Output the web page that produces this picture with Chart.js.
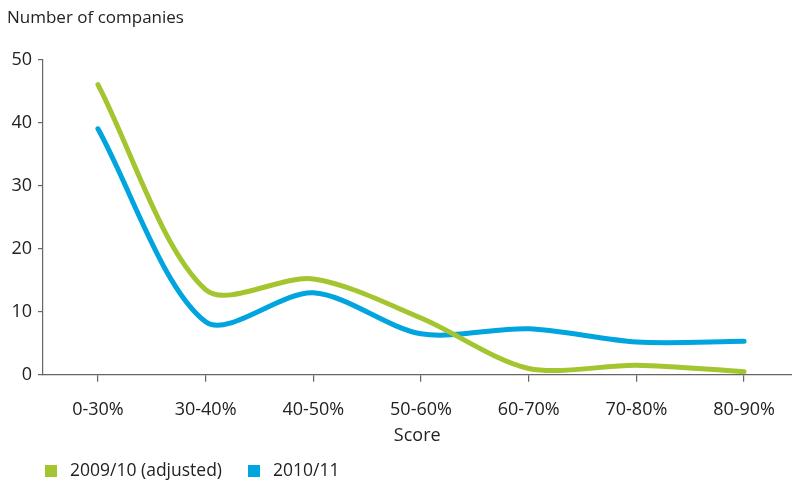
<!DOCTYPE html>
<html>

<head>
    <script src="https://cdn.jsdelivr.net/npm/chart.js@4.4.1/dist/chart.umd.min.js"></script>
    <style>
        html, body { margin: 0; padding: 0; background: #fff; }
        #wrap { width: 792px; height: 484px; }
    </style>
</head>

<body>
    <div id="wrap">
        <canvas id="scores"></canvas>
    </div>

    <script>
        const categories = ["0-30%", "30-40%", "40-50%", "50-60%", "60-70%", "70-80%", "80-90%"]
        const seriesNames = ["2009/10 (adjusted)", "2010/11"]
        const values2009 = [46, 13.5, 15.2, 9.0, 1.0, 1.5, 0.5]
        const values2010 = [39, 8.4, 13.0, 6.5, 7.3, 5.2, 5.3]
        const yTicks = [0, 10, 20, 30, 40, 50]

        const green = "#a3c52f"
        const blue = "#00a4df"
        const family = "'Open Sans', 'Noto Sans', sans-serif"
        const font = { family: family, size: 18 }

        // points use category index as x so the axis can run past the last label like the original
        function toPoints(vals) {
            return vals.map((v, i) => ({ x: i, y: v }))
        }

        // simple legend drawn under the axis title, square swatches
        const bottomLegend = {
            id: 'bottomLegend',
            afterDraw(chart) {
                const ctx = chart.ctx
                ctx.save()
                ctx.font = '17.5px ' + family
                ctx.textBaseline = 'middle'
                let x = 45
                const y = 471
                chart.data.datasets.forEach(ds => {
                    ctx.fillStyle = ds.borderColor
                    ctx.fillRect(x, y - 6, 12, 12)
                    ctx.fillStyle = '#222'
                    ctx.fillText(ds.label, x + 25, y)
                    x += 25 + ctx.measureText(ds.label).width + 26
                })
                ctx.restore()
            }
        }

        new Chart(document.getElementById('scores'), {
            type: 'line',
            data: {
                datasets: [
                    {
                        label: seriesNames[0],
                        data: toPoints(values2009),
                        borderColor: green,
                        backgroundColor: green,
                        borderWidth: 5,
                        borderCapStyle: 'round',
                        tension: 0.3,
                        pointRadius: 0
                    },
                    {
                        label: seriesNames[1],
                        data: toPoints(values2010),
                        borderColor: blue,
                        backgroundColor: blue,
                        borderWidth: 5,
                        borderCapStyle: 'round',
                        tension: 0.3,
                        pointRadius: 0
                    }
                ]
            },
            plugins: [bottomLegend],
            options: {
                responsive: true,
                maintainAspectRatio: false,
                animation: false,
                layout: { padding: { top: 0, right: 0, bottom: 37, left: 7 } },
                plugins: {
                    title: {
                        display: true,
                        text: 'Number of companies',
                        align: 'start',
                        color: '#222',
                        font: { family: family, size: 17, weight: 'normal' },
                        padding: { top: 8, bottom: 31 }
                    },
                    legend: { display: false },
                    tooltip: { enabled: false }
                },
                scales: {
                    x: {
                        type: 'linear',
                        min: -0.51,
                        max: 6.44,
                        grid: { drawOnChartArea: false, tickLength: 7, color: '#666', lineWidth: 1.2 },
                        border: { color: '#666', width: 1.2 },
                        ticks: {
                            stepSize: 1,
                            includeBounds: false,
                            color: '#222',
                            font: font,
                            padding: 17,
                            maxRotation: 0,
                            autoSkip: false,
                            callback: (v) => Number.isInteger(v) ? categories[v] : ''
                        },
                        afterBuildTicks: (scale) => {
                            scale.ticks = categories.map((c, i) => ({ value: i }))
                        },
                        title: {
                            display: true,
                            text: 'Score',
                            color: '#222',
                            font: font,
                            padding: { top: -12, bottom: 0 }
                        }
                    },
                    y: {
                        min: yTicks[0],
                        max: yTicks[yTicks.length - 1],
                        grid: { drawOnChartArea: false, tickLength: 5, color: '#666', lineWidth: 1.2 },
                        border: { color: '#666', width: 1.2 },
                        afterBuildTicks: (scale) => {
                            scale.ticks = yTicks.map(v => ({ value: v }))
                        },
                        afterFit: (scale) => { scale.width = 36 },
                        ticks: {
                            color: '#222',
                            font: font,
                            padding: 6
                        }
                    }
                }
            }
        })
    </script>

</body>

</html>
